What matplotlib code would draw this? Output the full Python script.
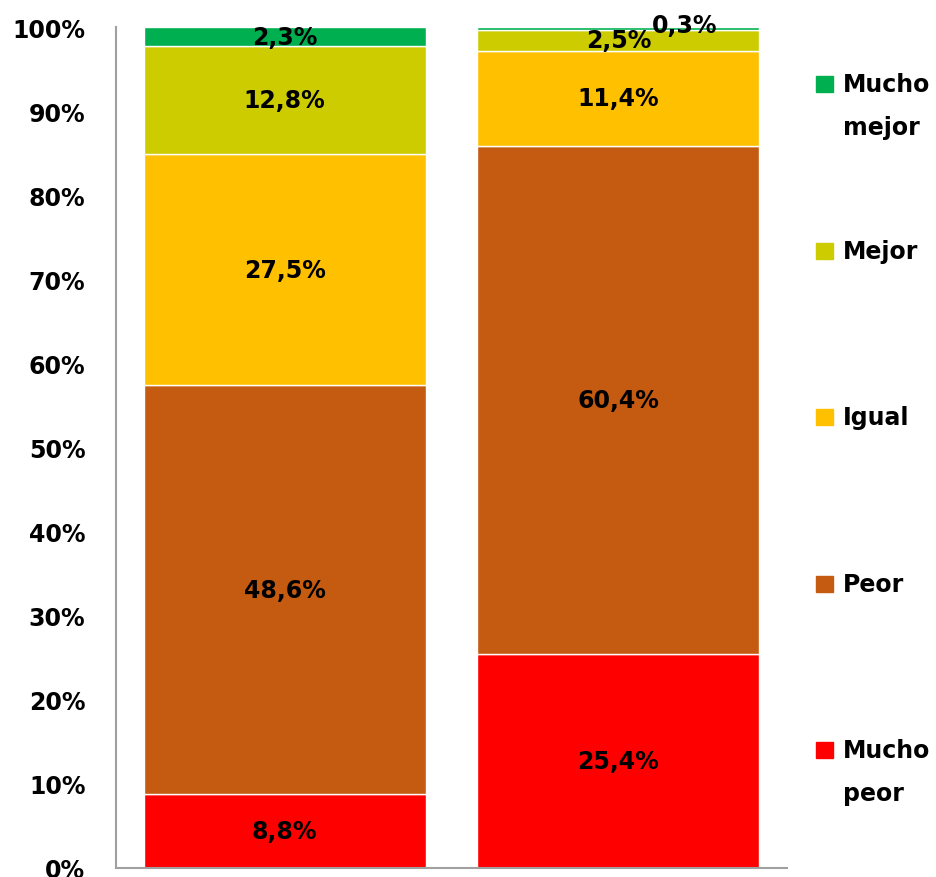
import matplotlib.pyplot as plt
from matplotlib.patches import Rectangle

# categorias de abajo hacia arriba
categorias = ['Mucho\npeor', 'Peor', 'Igual', 'Mejor', 'Mucho\nmejor']
colores = ['#FF0000', '#C55A11', '#FFC000', '#CCCC00', '#00B050']
barras = [0, 1]
valores = {
    'Mucho\npeor': [8.8, 25.4],
    'Peor': [48.6, 60.4],
    'Igual': [27.5, 11.4],
    'Mejor': [12.8, 2.5],
    'Mucho\nmejor': [2.3, 0.3],
}
yticks = list(range(0, 101, 10))

fig = plt.figure(figsize=(9.36, 8.78), dpi=100)
ax = fig.add_axes([116 / 936, 1 - 869 / 878, 671 / 936, 841 / 878])

base = [0, 0]
for cat, col in zip(categorias, colores):
    vals = valores[cat]
    rects = ax.bar(barras, vals, width=0.845, bottom=base, color=col,
                   edgecolor='white', linewidth=1)
    for r, v, b in zip(rects, vals, base):
        txt = f'{v:.1f}'.replace('.', ',') + '%'
        cx = r.get_x() + r.get_width() / 2
        cy = b + v / 2
        if v < 1:
            # etiqueta pequeña desplazada fuera de la barra
            ax.annotate(txt, (cx, cy), xytext=(48, 2), textcoords='offset points',
                        ha='center', va='center', fontsize=17, fontweight='bold')
        else:
            ax.text(cx, cy, txt, ha='center', va='center', fontsize=17,
                    fontweight='bold')
    base = [b + v for b, v in zip(base, vals)]

ax.set_xlim(-0.505, 1.505)
ax.set_ylim(0, 100)
ax.set_yticks(yticks)
ax.set_yticklabels([f'{t}%' for t in yticks], fontsize=17, fontweight='bold')
ax.set_xticks([])
ax.tick_params(axis='y', length=0, pad=22)
for s in ['top', 'right']:
    ax.spines[s].set_visible(False)
for s in ['left', 'bottom']:
    ax.spines[s].set_color('#A0A0A0')
    ax.spines[s].set_linewidth(1.5)

# leyenda a la derecha, de arriba hacia abajo
for i, (cat, col) in enumerate(zip(categorias[::-1], colores[::-1])):
    yc = 85 + i * 166.5
    fig.add_artist(Rectangle((816 / 936, 1 - (yc + 8) / 878), 17 / 936, 16 / 878,
                             transform=fig.transFigure, color=col))
    for j, linea in enumerate(cat.split('\n')):
        fig.text(843 / 936, 1 - (yc + 7.5 + j * 43) / 878, linea, ha='left',
                 va='baseline', fontsize=17, fontweight='bold')

fig.savefig('out.png', dpi=100)
